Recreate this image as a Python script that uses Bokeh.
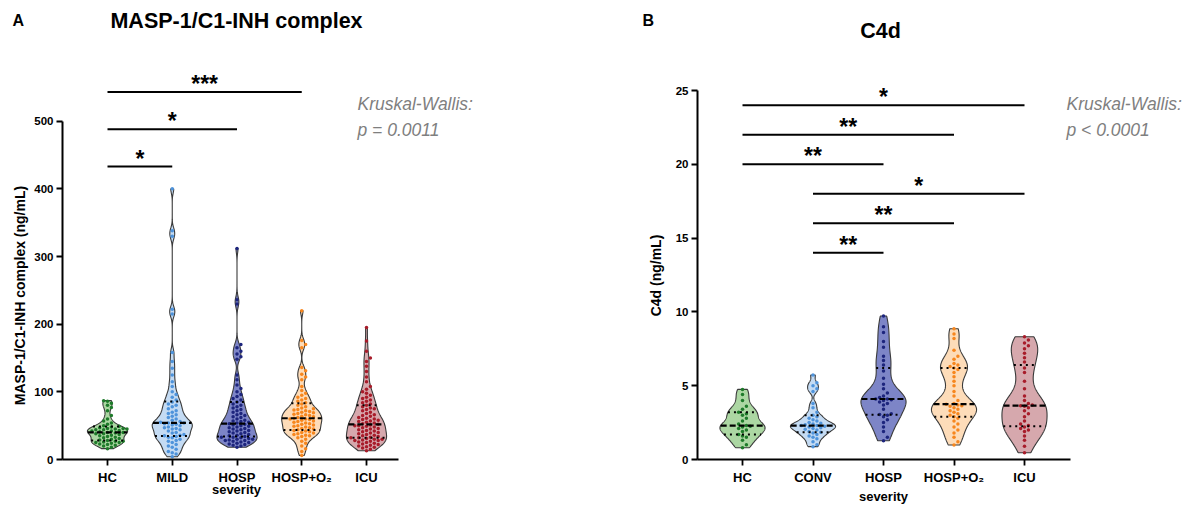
import numpy as np
from bokeh.plotting import figure
from bokeh.models import Range1d, Label, FixedTicker
from bokeh.layouts import row
from bokeh.embed import file_html
from bokeh.resources import INLINE
from bokeh.core.properties import value

# ---------------- data ----------------
cats_A = ["HC", "MILD", "HOSP", "HOSP+O₂", "ICU"]
cats_B = ["HC", "CONV", "HOSP", "HOSP+O₂", "ICU"]

hc_A = [16, 18, 20, 21, 22, 23, 24, 25, 25, 26, 27, 27, 28, 29, 30, 31, 32, 33, 34, 35, 36, 37,
        38, 38, 39, 40, 40, 41, 42, 42, 43, 44, 44, 45, 45, 46, 46, 47, 48, 49, 50, 52, 54, 57,
        60, 65, 72, 77, 80, 83, 86, 87]
mild_A = [4, 8, 10, 12, 15, 18, 20, 22, 25, 27, 28, 30, 32, 33, 34, 35, 36, 37, 39, 40, 42, 44,
          45, 46, 47, 48, 50, 51, 52, 53, 54, 54, 55, 56, 58, 60, 62, 64, 66, 68, 70, 72, 75, 78,
          80, 82, 85, 88, 92, 96, 100, 108, 115, 125, 135, 145, 158, 215, 222, 330, 338, 400]
hosp_A = [18, 20, 21, 22, 23, 24, 25, 26, 27, 28, 28, 29, 30, 30, 31, 32, 33, 33, 34, 35, 36, 37,
          38, 39, 40, 41, 42, 43, 44, 45, 46, 47, 48, 49, 50, 51, 52, 53, 54, 55, 56, 57, 58, 60,
          62, 63, 65, 66, 68, 70, 72, 74, 76, 78, 80, 82, 85, 88, 90, 93, 96, 100, 105, 110, 118,
          125, 148, 152, 156, 160, 165, 170, 230, 236, 312]
ho2_A = [6, 12, 16, 20, 24, 27, 30, 32, 34, 35, 36, 37, 38, 39, 40, 41, 42, 43, 44, 45, 46, 47,
         48, 49, 50, 51, 52, 53, 54, 55, 56, 57, 58, 59, 60, 60, 61, 62, 63, 64, 65, 66, 67, 68,
         69, 70, 71, 72, 73, 74, 75, 76, 78, 80, 82, 84, 86, 88, 90, 92, 95, 98, 102, 108, 118,
         122, 126, 131, 136, 165, 170, 176, 220]
icu_A = [13, 15, 17, 18, 19, 20, 21, 22, 23, 24, 25, 26, 27, 28, 28, 29, 30, 30, 31, 32, 32, 33,
         34, 35, 36, 37, 38, 39, 40, 41, 42, 43, 44, 45, 46, 47, 48, 49, 50, 50, 51, 52, 53, 54,
         55, 56, 57, 58, 59, 60, 61, 62, 64, 65, 66, 68, 70, 72, 74, 75, 76, 78, 80, 82, 84, 86,
         88, 90, 92, 95, 98, 100, 104, 108, 115, 122, 130, 138, 145, 150, 160, 175, 195]

hc_B = [0.8, 1.0, 1.3, 1.5, 1.6, 1.7, 1.9, 2.0, 2.1, 2.2, 2.25, 2.3, 2.4, 2.6, 2.8, 3.0, 3.1,
        3.2, 3.4, 3.6, 4.0, 4.4, 4.75]
conv_B = [0.87, 1.0, 1.2, 1.4, 1.5, 1.6, 1.7, 1.8, 1.85, 1.9, 2.0, 2.05, 2.1, 2.15, 2.2, 2.25,
          2.3, 2.3, 2.35, 2.4, 2.45, 2.5, 2.6, 2.7, 2.8, 2.9, 3.0, 3.2, 3.5, 3.8, 4.6, 4.8, 5.0,
          5.2, 5.72]
hosp_B = [1.27, 1.5, 1.9, 2.2, 2.5, 2.7, 2.9, 3.0, 3.05, 3.1, 3.4, 3.7, 3.8, 3.9, 4.0, 4.05,
          4.1, 4.1, 4.2, 4.3, 4.5, 4.8, 5.1, 5.5, 6.0, 6.4, 6.7, 7.0, 7.6, 8.0, 8.6, 9.0, 9.72]
ho2_B = [0.98, 1.2, 1.5, 1.8, 2.0, 2.2, 2.4, 2.6, 2.8, 2.9, 3.0, 3.1, 3.2, 3.3, 3.4, 3.5, 3.6,
         3.65, 3.7, 3.75, 3.8, 4.0, 4.3, 4.6, 5.0, 5.3, 5.6, 5.9, 6.1, 6.2, 6.3, 6.4, 6.5, 6.8,
         7.0, 7.4, 8.2, 8.5, 8.86]
icu_B = [0.46, 0.9, 1.3, 1.6, 1.9, 2.0, 2.1, 2.2, 2.3, 2.4, 2.6, 2.9, 3.1, 3.3, 3.5, 3.6, 3.65,
         3.7, 3.8, 4.0, 4.3, 4.8, 5.3, 5.9, 6.2, 6.6, 6.9, 7.2, 7.5, 7.7, 7.9, 8.1, 8.32]

ticks_A = [0, 100, 200, 300, 400, 500]
ticks_B = [0, 5, 10, 15, 20, 25]

sig_A_from = [1, 1, 1]
sig_A_to = [2, 3, 4]
sig_A_y = [433, 488, 543]
sig_A_text = ["*", "*", "***"]

sig_B_from = [1, 1, 1, 2, 2, 2]
sig_B_to = [5, 4, 3, 5, 4, 3]
sig_B_y = [24, 22, 20, 18, 16, 14]
sig_B_text = ["*", "**", "**", "*", "**", "**"]

kw_A = ["Kruskal-Wallis:", "p = 0.0011"]
kw_B = ["Kruskal-Wallis:", "p < 0.0001"]

fill_colors = ["#acd7a3", "#c4dbf3", "#7d85c7", "#fddcb9", "#d6a8ad"]
dot_colors = ["#1e7b2a", "#4e93db", "#1d257d", "#f7861d", "#a81c2a"]

FONT = "Liberation Sans"
H = 506


def kde_profile(vals, bw_factor, n=260):
    v = np.asarray(vals, float)
    sd = v.std(ddof=1)
    q75, q25 = np.percentile(v, [75, 25])
    h = 0.9 * min(sd, (q75 - q25) / 1.34) * len(v) ** (-0.2) * bw_factor
    grid = np.linspace(v.min(), v.max(), n)
    d = np.exp(-0.5 * ((grid[:, None] - v[None, :]) / h) ** 2).sum(1)
    return grid, d / d.max()


def swarm(vals, ppu_y, ppu_x, d):
    v = np.asarray(vals, float)
    order = np.argsort(v)
    placed = []
    xs = np.zeros(len(v))
    for i in order:
        y = v[i] * ppu_y
        k = 0
        while True:
            off = ((k + 1) // 2) * d * (1 if k % 2 == 1 else -1)
            ok = True
            for (py, px) in placed:
                if abs(py - y) < d and (px - off) ** 2 + (py - y) ** 2 < d * d * 0.95:
                    ok = False
                    break
            if ok:
                break
            k += 1
        placed.append((y, off))
        xs[i] = off / ppu_x
    return xs


def build(cats, series, ticks, x_px0, px_per_x, y_px0, px_per_y, canvas_left, width,
          axis_left_px, axis_right_px, halfw, bw, sig, kw, kw_pos):
    def dx(px):
        return 1 + (px - x_px0) / px_per_x

    def dy(py):
        return (y_px0 - py) / px_per_y

    p = figure(width=width, height=H, output_backend="svg", toolbar_location=None,
               x_range=Range1d(dx(canvas_left), dx(canvas_left + width)),
               y_range=Range1d(dy(H), dy(0)),
               min_border=0, min_border_left=0, min_border_right=0,
               min_border_top=0, min_border_bottom=0,
               background_fill_color="white", border_fill_color="white")
    p.outline_line_color = None
    p.xgrid.visible = False
    p.ygrid.visible = False

    for i, vals in enumerate(series):
        c = i + 1
        grid, dens = kde_profile(vals, bw[i])
        w = dens * halfw
        xs = np.concatenate([c + w, (c - w)[::-1]])
        ys = np.concatenate([grid, grid[::-1]])
        p.patch(xs, ys, fill_color=fill_colors[i], fill_alpha=1.0, line_color="#3a3a3a",
                line_width=1.1)
        offs = swarm(vals, px_per_y, px_per_x, 3.9)
        p.scatter(c + offs, vals, size=3.5, fill_color=dot_colors[i], line_color=None)
        q1, med, q3 = np.percentile(np.asarray(vals, float), [25, 50, 75], method="weibull")
        for q, dash, lw in [(q1, "2 4", 2.0), (q3, "2 4", 2.0), (med, "6 3", 2.2)]:
            hw = np.interp(q, grid, w)
            p.segment(c - hw, q, c + hw, q, line_color="black", line_width=lw, line_dash=dash)

    # significance bars
    s_from, s_to, s_y, s_txt = sig
    p.segment(s_from, s_y, s_to, s_y, line_color="black", line_width=2)
    mids = [(a + b) / 2 for a, b in zip(s_from, s_to)]
    p.text(mids, s_y, text=s_txt, text_font=value(FONT), text_font_style="bold",
           text_font_size="23px", text_align="center", text_baseline="alphabetic",
           y_offset=-8, text_color="black")

    # axes drawn at fixed data locations inside the full-canvas frame
    p.yaxis.fixed_location = dx(axis_left_px)
    p.xaxis.fixed_location = 0
    p.yaxis.ticker = FixedTicker(ticks=ticks)
    p.yaxis.bounds = (ticks[0], ticks[-1])
    p.xaxis.ticker = FixedTicker(ticks=[1, 2, 3, 4, 5])
    p.xaxis.major_label_overrides = {k + 1: c for k, c in enumerate(cats)}
    p.xaxis.bounds = (dx(axis_left_px), dx(axis_right_px))
    for ax in (p.xaxis, p.yaxis):
        ax.axis_line_width = 2
        ax.axis_line_color = "black"
        ax.major_tick_line_width = 1.8
        ax.major_tick_line_color = "black"
        ax.major_tick_out = 6
        ax.major_tick_in = 0
        ax.minor_tick_line_color = None
        ax.major_label_text_font = FONT
        ax.major_label_text_font_style = "bold"
        ax.major_label_text_color = "black"
    p.yaxis.major_label_text_font_size = "11.5px"
    p.yaxis.major_label_standoff = 3
    p.xaxis.major_label_text_font_size = "13px"
    p.xaxis.major_label_standoff = 4

    kx, ky1, ky2 = kw_pos
    for t, yy in zip(kw, [ky1, ky2]):
        p.add_layout(Label(x=dx(kx), y=dy(yy), text=t, text_font=FONT, text_font_style="italic",
                           text_font_size="17.5px", text_color="#7f7f7f", text_align="left",
                           text_baseline="middle"))
    return p, dx, dy


def add_text(p, x, y, t, size, align="center", angle=0.0):
    p.add_layout(Label(x=x, y=y, text=t, text_font=FONT, text_font_style="bold",
                       text_font_size=size, text_align=align, text_baseline="middle",
                       angle=angle, text_color="black"))


pA, dxA, dyA = build(cats_A, [hc_A, mild_A, hosp_A, ho2_A, icu_A], ticks_A,
                     x_px0=107, px_per_x=64.75, y_px0=459, px_per_y=0.6766,
                     canvas_left=0, width=633, axis_left_px=62, axis_right_px=398,
                     halfw=0.31, bw=[0.8, 0.45, 0.5, 0.55, 0.7],
                     sig=(sig_A_from, sig_A_to, sig_A_y, sig_A_text),
                     kw=kw_A, kw_pos=(357, 103, 129))
add_text(pA, dxA(12), dyA(20), "A", "16px", align="left")
add_text(pA, dxA(236), dyA(20), "MASP-1/C1-INH complex", "21.5px")
add_text(pA, dxA(19), dyA(295), "MASP-1/C1-INH complex (ng/mL)", "14px", angle=np.pi / 2)
add_text(pA, dxA(236), dyA(489), "severity", "13px")

pB, dxB, dyB = build(cats_B, [hc_B, conv_B, hosp_B, ho2_B, icu_B], ticks_B,
                     x_px0=742, px_per_x=70.5, y_px0=459, px_per_y=14.76,
                     canvas_left=633, width=565, axis_left_px=697, axis_right_px=1070,
                     halfw=0.32, bw=[0.7, 0.6, 0.6, 0.6, 0.7],
                     sig=(sig_B_from, sig_B_to, sig_B_y, sig_B_text),
                     kw=kw_B, kw_pos=(1066, 103, 129))
add_text(pB, dxB(642), dyB(20), "B", "16px", align="left")
add_text(pB, dxB(880), dyB(30), "C4d", "21.5px")
add_text(pB, dxB(655), dyB(275), "C4d (ng/mL)", "14px", angle=np.pi / 2)
add_text(pB, dxB(883), dyB(496), "severity", "13px")

layout = row(pA, pB, spacing=0)
open("out.html", "w").write(file_html(layout, INLINE))
